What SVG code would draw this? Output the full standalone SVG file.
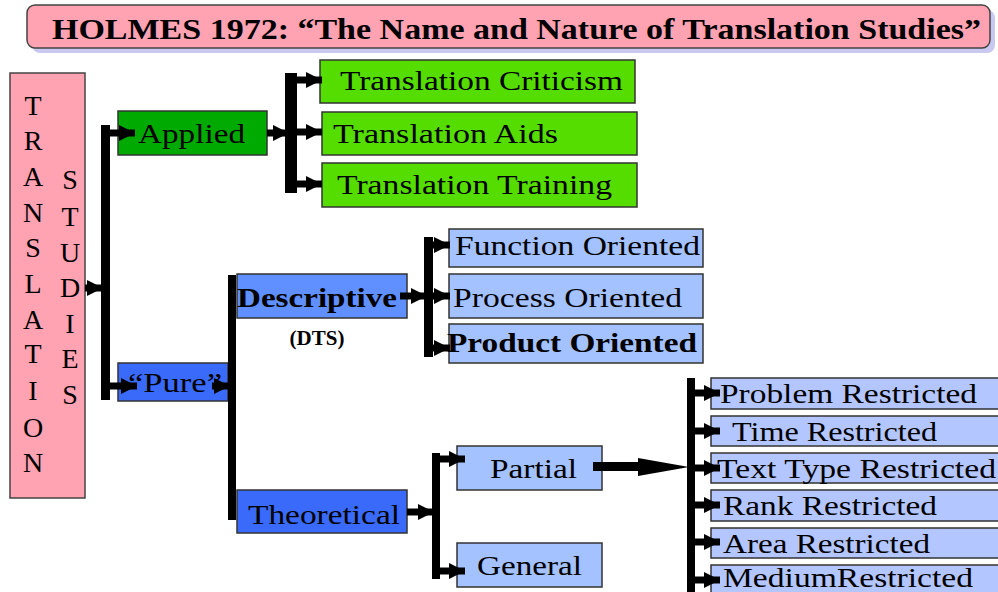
<svg xmlns="http://www.w3.org/2000/svg" width="998" height="592" viewBox="0 0 998 592" font-family="Liberation Serif, Times New Roman, serif">
<style>
text{font-family:'Liberation Serif','Times New Roman',Times,serif;fill:#000}
.b{font-weight:bold}
.box{stroke:#333;stroke-width:1.5}
.ln{stroke:#000;fill:none}
.bar{fill:#000}
</style>
<defs>
<marker id="ah" markerUnits="userSpaceOnUse" markerWidth="16" markerHeight="18" viewBox="0 0 16 18" refX="16" refY="9" orient="auto">
<path d="M0,1 L16,9 L0,17 Z" fill="#000"/>
</marker>
</defs>
<rect width="998" height="592" fill="#fff"/>

<g id="title">
<rect x="32" y="10" width="963" height="43" rx="8" fill="#C8C8F0"/>
<rect x="27" y="5" width="963" height="43" rx="8" fill="#FFA2B2" stroke="#444" stroke-width="1.5"/>
<text class="b" x="52" y="39" font-size="30" textLength="929" lengthAdjust="spacingAndGlyphs">HOLMES 1972: “The Name and Nature of Translation Studies”</text>
</g>

<g id="translation-studies">
<rect x="10" y="73" width="75" height="425" fill="#FFA2B2" stroke="#444" stroke-width="1.5"/>
<g font-size="28" text-anchor="middle">
<text x="33" y="115">T</text>
<text x="33" y="150">R</text>
<text x="33" y="186">A</text>
<text x="33" y="222">N</text>
<text x="33" y="257">S</text>
<text x="33" y="293">L</text>
<text x="33" y="329">A</text>
<text x="33" y="363">T</text>
<text x="33" y="400">I</text>
<text x="33" y="437">O</text>
<text x="33" y="472">N</text>
<text x="70" y="189">S</text>
<text x="70" y="226">T</text>
<text x="70" y="262">U</text>
<text x="70" y="297">D</text>
<text x="70" y="333">I</text>
<text x="70" y="368">E</text>
<text x="70" y="404">S</text>
</g>
</g>

<g id="applied">
<rect class="box" x="118" y="111" width="149" height="44" fill="#00AA00"/>
<text x="138" y="143" font-size="28" textLength="107" lengthAdjust="spacingAndGlyphs">Applied</text>
</g>

<g id="translation-criticism">
<rect class="box" x="320" y="60" width="315" height="43" fill="#55DD00"/>
<text x="340" y="90" font-size="27" textLength="283" lengthAdjust="spacingAndGlyphs">Translation Criticism</text>
</g>
<g id="translation-aids">
<rect class="box" x="322" y="112" width="315" height="43" fill="#55DD00"/>
<text x="333" y="143" font-size="27" textLength="225" lengthAdjust="spacingAndGlyphs">Translation Aids</text>
</g>
<g id="translation-training">
<rect class="box" x="322" y="163" width="315" height="44" fill="#55DD00"/>
<text x="337" y="194" font-size="27" textLength="275" lengthAdjust="spacingAndGlyphs">Translation Training</text>
</g>

<g id="pure">
<rect class="box" x="118" y="363" width="110" height="38" fill="#3A6AFA"/>
<text x="128" y="392" font-size="27" textLength="94" lengthAdjust="spacingAndGlyphs">“Pure”</text>
</g>

<g id="descriptive">
<rect class="box" x="237" y="274" width="170" height="44" fill="#6090FF"/>
<text class="b" x="237" y="307" font-size="28" textLength="160" lengthAdjust="spacingAndGlyphs">Descriptive</text>
<text class="b" x="317" y="345" font-size="21" text-anchor="middle">(DTS)</text>
</g>

<g id="function-oriented">
<rect class="box" x="449" y="229" width="254" height="38" fill="#A4C2FF"/>
<text x="455" y="255" font-size="28" textLength="245" lengthAdjust="spacingAndGlyphs">Function Oriented</text>
</g>
<g id="process-oriented">
<rect class="box" x="449" y="274" width="254" height="44" fill="#A4C2FF"/>
<text x="453" y="307" font-size="27" textLength="229" lengthAdjust="spacingAndGlyphs">Process Oriented</text>
</g>
<g id="product-oriented">
<rect class="box" x="449" y="324" width="254" height="39" fill="#A4C2FF"/>
<text class="b" x="447" y="352" font-size="28" textLength="250" lengthAdjust="spacingAndGlyphs">Product Oriented</text>
</g>

<g id="theoretical">
<rect class="box" x="237" y="490" width="170" height="43" fill="#3A6AFA"/>
<text x="248" y="524" font-size="27" textLength="152" lengthAdjust="spacingAndGlyphs">Theoretical</text>
</g>

<g id="partial">
<rect class="box" x="457" y="446" width="145" height="44" fill="#A4C2FF"/>
<text x="490" y="478" font-size="27" textLength="87" lengthAdjust="spacingAndGlyphs">Partial</text>
</g>
<g id="general">
<rect class="box" x="457" y="543" width="145" height="44" fill="#A4C2FF"/>
<text x="477" y="575" font-size="27" textLength="105" lengthAdjust="spacingAndGlyphs">General</text>
</g>

<g id="problem-restricted">
<rect class="box" x="711" y="378" width="292" height="31" fill="#B4C6FF"/>
<text x="720" y="403" font-size="27" textLength="257" lengthAdjust="spacingAndGlyphs">Problem Restricted</text>
</g>
<g id="time-restricted">
<rect class="box" x="711" y="416" width="292" height="30" fill="#B4C6FF"/>
<text x="732" y="441" font-size="27" textLength="205" lengthAdjust="spacingAndGlyphs">Time Restricted</text>
</g>
<g id="text-type-restricted">
<rect class="box" x="711" y="453" width="292" height="30" fill="#B4C6FF"/>
<text x="717" y="478" font-size="27" textLength="279" lengthAdjust="spacingAndGlyphs">Text Type Restricted</text>
</g>
<g id="rank-restricted">
<rect class="box" x="711" y="490" width="292" height="31" fill="#B4C6FF"/>
<text x="723" y="515" font-size="27" textLength="214" lengthAdjust="spacingAndGlyphs">Rank Restricted</text>
</g>
<g id="area-restricted">
<rect class="box" x="711" y="528" width="292" height="30" fill="#B4C6FF"/>
<text x="723" y="553" font-size="27" textLength="207" lengthAdjust="spacingAndGlyphs">Area Restricted</text>
</g>
<g id="medium-restricted">
<rect class="box" x="711" y="565" width="292" height="35" fill="#B4C6FF"/>
<text x="723" y="587" font-size="27" textLength="250" lengthAdjust="spacingAndGlyphs">MediumRestricted</text>
</g>

<g id="connectors">
<rect class="bar" x="101" y="125" width="9" height="275"/>
<rect class="bar" x="285" y="73" width="12" height="120"/>
<rect class="bar" x="228" y="275" width="8" height="245"/>
<rect class="bar" x="424" y="237" width="9" height="120"/>
<rect class="bar" x="432" y="453" width="8" height="126"/>
<rect class="bar" x="687" y="378" width="8" height="220"/>
<line class="ln" x1="85" y1="288" x2="103" y2="288" stroke-width="7" marker-end="url(#ah)"/>
<line class="ln" x1="110" y1="133" x2="135" y2="133" stroke-width="7" marker-end="url(#ah)"/>
<line class="ln" x1="110" y1="386" x2="137" y2="386" stroke-width="7" marker-end="url(#ah)"/>
<line class="ln" x1="267" y1="133" x2="289" y2="133" stroke-width="7" marker-end="url(#ah)"/>
<line class="ln" x1="297" y1="80" x2="322" y2="80" stroke-width="7" marker-end="url(#ah)"/>
<line class="ln" x1="297" y1="132" x2="322" y2="132" stroke-width="7" marker-end="url(#ah)"/>
<line class="ln" x1="297" y1="184" x2="322" y2="184" stroke-width="7" marker-end="url(#ah)"/>
<line class="ln" x1="212" y1="386" x2="230" y2="386" stroke-width="7" marker-end="url(#ah)"/>
<line class="ln" x1="400" y1="296" x2="427" y2="296" stroke-width="7" marker-end="url(#ah)"/>
<line class="ln" x1="433" y1="245" x2="450" y2="245" stroke-width="7" marker-end="url(#ah)"/>
<line class="ln" x1="433" y1="296" x2="450" y2="296" stroke-width="7" marker-end="url(#ah)"/>
<line class="ln" x1="433" y1="348" x2="450" y2="348" stroke-width="7" marker-end="url(#ah)"/>
<line class="ln" x1="407" y1="512" x2="434" y2="512" stroke-width="7" marker-end="url(#ah)"/>
<line class="ln" x1="440" y1="459" x2="465" y2="459" stroke-width="7" marker-end="url(#ah)"/>
<line class="ln" x1="440" y1="571" x2="465" y2="571" stroke-width="7" marker-end="url(#ah)"/>
<rect class="bar" x="593" y="462" width="46" height="9"/>
<path d="M638,458 L689,467 L638,476 Z" fill="#000"/>
<line class="ln" x1="695" y1="393" x2="720" y2="393" stroke-width="7" marker-end="url(#ah)"/>
<line class="ln" x1="695" y1="431" x2="720" y2="431" stroke-width="7" marker-end="url(#ah)"/>
<line class="ln" x1="695" y1="468" x2="720" y2="468" stroke-width="7" marker-end="url(#ah)"/>
<line class="ln" x1="695" y1="505" x2="720" y2="505" stroke-width="7" marker-end="url(#ah)"/>
<line class="ln" x1="695" y1="542" x2="720" y2="542" stroke-width="7" marker-end="url(#ah)"/>
<line class="ln" x1="695" y1="580" x2="720" y2="580" stroke-width="7" marker-end="url(#ah)"/>
</g>
</svg>
